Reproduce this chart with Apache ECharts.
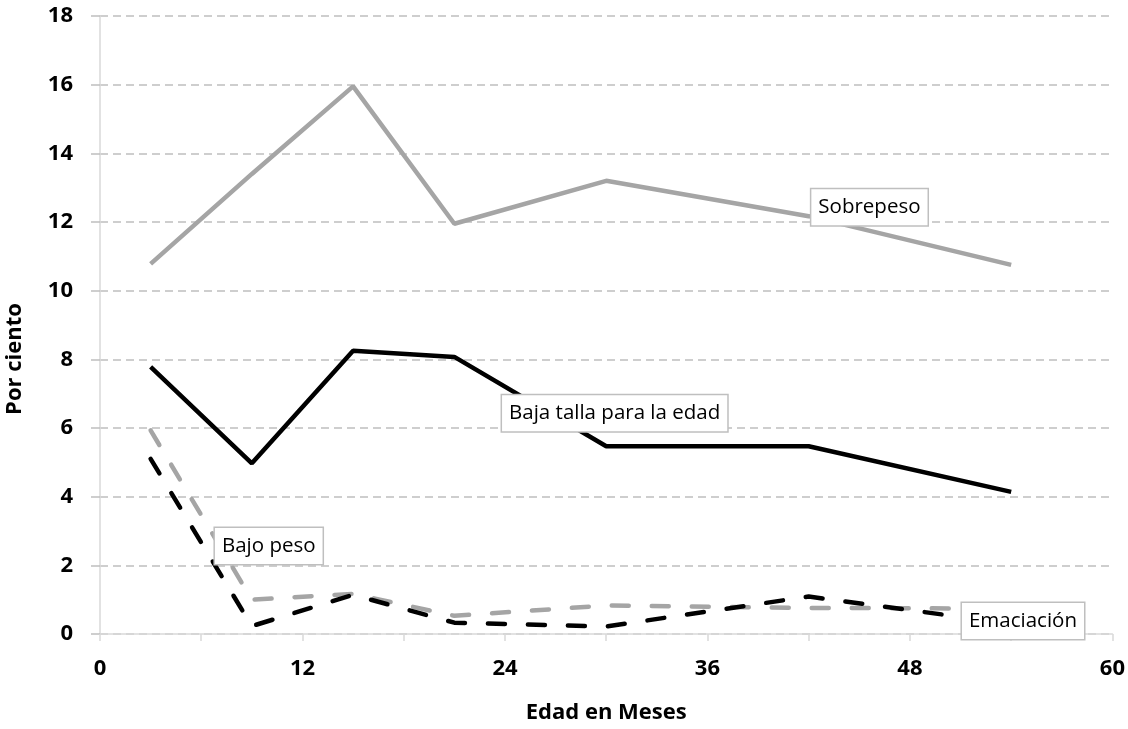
<!DOCTYPE html>
<html>
<head>
<meta charset="utf-8">
<script src="https://cdn.jsdelivr.net/npm/echarts@6/dist/echarts.min.js"></script>
<style>
html,body{margin:0;padding:0;background:#fff;}
#chart{width:1128px;height:729px;}
</style>
</head>
<body>
<div id="chart"></div>
<script>
// Data (ages in months = midpoints of age groups)
const ages = [3, 9, 15, 21, 30, 42, 54];
const sobrepeso = [10.78, 13.4, 15.95, 11.95, 13.2, 12.17, 10.75];
const bajaTalla = [7.78, 4.97, 8.25, 8.07, 5.47, 5.47, 4.14];
const bajoPeso = [5.93, 1.0, 1.17, 0.53, 0.83, 0.76, 0.74];
const emaciacion = [5.1, 0.23, 1.14, 0.33, 0.22, 1.09, 0.3];
const xTicks = [0, 12, 24, 36, 48, 60];
const yTicks = [0, 2, 4, 6, 8, 10, 12, 14, 16, 18];
const xTitle = 'Edad en Meses';
const yTitle = 'Por ciento';

const FONT = "'Open Sans', 'Noto Sans', sans-serif";
const pairs = arr => ages.map((a, i) => [a, arr[i]]);

function boxLabel(text, coord) {
  return {
    symbol: 'rect', symbolSize: 0, silent: true, z: 10,
    data: [{ coord: coord, value: text }],
    label: {
      show: true, position: 'inside', formatter: text,
      fontFamily: FONT, fontSize: 20.5, lineHeight: 24, color: '#000',
      backgroundColor: '#fff', borderColor: '#bfbfbf', borderWidth: 1.5,
      padding: [6, 7, 6, 7]
    }
  };
}

const chart = echarts.init(document.getElementById('chart'));
chart.setOption({
  animation: false,
  backgroundColor: '#fff',
  grid: { left: 100, right: 15, top: 16, bottom: 93 },
  graphic: [{
    type: 'text', x: 15, y: 359, rotation: Math.PI / 2, silent: true,
    style: {
      text: yTitle, x: 0, y: 0, align: 'center', verticalAlign: 'middle',
      font: "bold 22px 'Open Sans', 'Noto Sans', sans-serif", fill: '#000'
    }
  }],
  xAxis: {
    type: 'value', min: 0, max: 60, interval: 6,
    name: xTitle, nameLocation: 'middle', nameGap: 68,
    nameTextStyle: { fontFamily: FONT, fontSize: 22, fontWeight: 'bold', color: '#000' },
    axisLine: { show: true, lineStyle: { color: '#d9d9d9', width: 1.5 } },
    axisTick: { show: true, length: 7, lineStyle: { color: '#d9d9d9', width: 1.5 } },
    splitLine: { show: false },
    axisLabel: {
      margin: 24, fontFamily: FONT, fontSize: 22, fontWeight: 'bold', color: '#000',
      formatter: v => xTicks.includes(v) ? String(v) : ''
    }
  },
  yAxis: {
    type: 'value', min: 0, max: 18, interval: 2,
    axisLine: { show: true, lineStyle: { color: '#d9d9d9', width: 1.5 } },
    axisTick: { show: true, length: 9, lineStyle: { color: '#bfbfbf', width: 1.5 } },
    splitLine: { show: true, lineStyle: { color: '#bfbfbf', width: 1.5, type: [8, 5] } },
    axisLabel: {
      margin: 27, fontFamily: FONT, fontSize: 22, fontWeight: 'bold', color: '#000',
      formatter: v => yTicks.includes(v) ? String(v) : ''
    }
  },
  series: [
    {
      name: 'Sobrepeso', type: 'line', data: pairs(sobrepeso), showSymbol: false,
      lineStyle: { color: '#a5a5a5', width: 4.5 },
      markPoint: boxLabel('Sobrepeso', [45.6, 12.43])
    },
    {
      name: 'Baja talla para la edad', type: 'line', data: pairs(bajaTalla), showSymbol: false,
      lineStyle: { color: '#000', width: 4.5 },
      markPoint: boxLabel('Baja talla para la edad', [30.5, 6.43])
    },
    {
      name: 'Bajo peso', type: 'line', data: pairs(bajoPeso), showSymbol: false,
      lineStyle: { color: '#a5a5a5', width: 4.5, type: [17, 23], cap: 'round' },
      markPoint: boxLabel('Bajo peso', [10.0, 2.56])
    },
    {
      name: 'Emaciación', type: 'line', data: pairs(emaciacion), showSymbol: false,
      lineStyle: { color: '#000', width: 4.5, type: [17, 23], cap: 'round' },
      markPoint: boxLabel('Emaciación', [54.7, 0.38])
    }
  ]
});
</script>
</body>
</html>
